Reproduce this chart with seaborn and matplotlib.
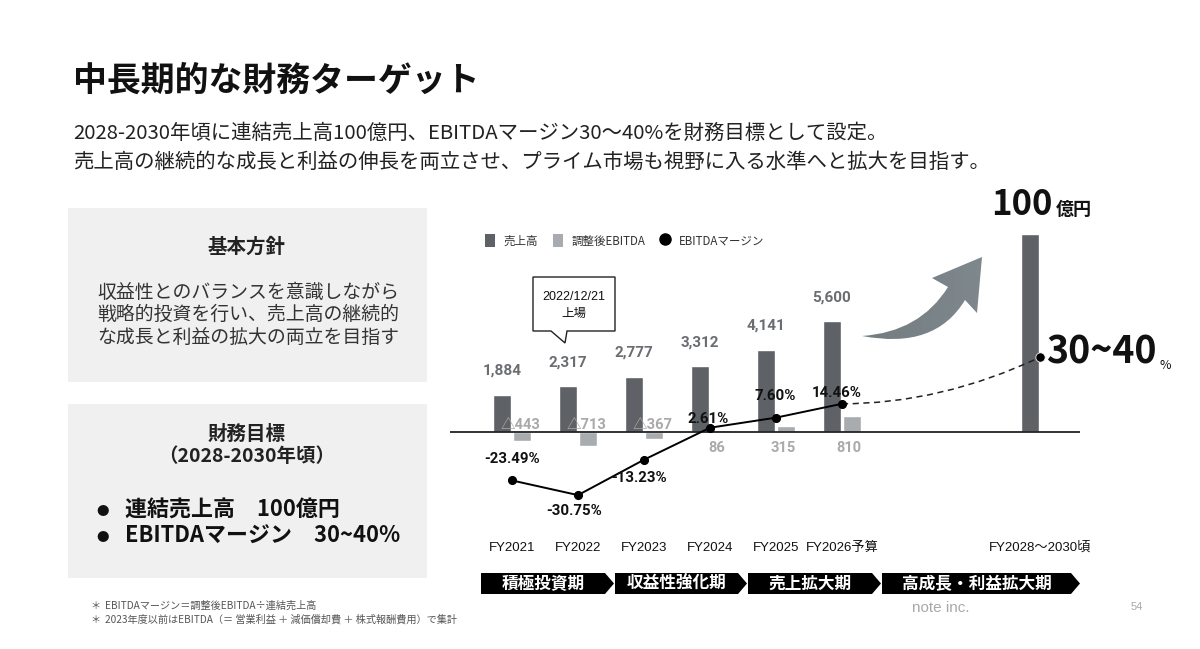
import numpy as np
import pandas as pd
import matplotlib
matplotlib.use("Agg")
import matplotlib.pyplot as plt
import seaborn as sns
from matplotlib.patches import Polygon, Patch, PathPatch
from matplotlib.lines import Line2D
from matplotlib.path import Path
from matplotlib.colors import LinearSegmentedColormap
from matplotlib.transforms import blended_transform_factory

# ---------------- data ----------------
fy_labels = ["FY2021", "FY2022", "FY2023", "FY2024", "FY2025", "FY2026予算"]
target_label = "FY2028〜2030頃"
sales = [1884, 2317, 2777, 3312, 4141, 5600]
ebitda = [-443, -713, -367, 86, 315, 810]
margin = [-23.49, -30.75, -13.23, 2.61, 7.60, 14.46]
target_sales = 10000
target_margin = 37.5
series_names = ["売上高", "調整後EBITDA", "EBITDAマージン"]
phases = ["積極投資期", "収益性強化期", "売上拡大期", "高成長・利益拡大期"]

title = "中長期的な財務ターゲット"
subtitle = ["2028-2030年頃に連結売上高100億円、EBITDAマージン30〜40%を財務目標として設定。",
            "売上高の継続的な成長と利益の伸長を両立させ、プライム市場も視野に入る水準へと拡大を目指す。"]
policy_title = "基本方針"
policy_lines = ["収益性とのバランスを意識しながら", "戦略的投資を行い、売上高の継続的", "な成長と利益の拡大の両立を目指す"]
goal_title = ["財務目標", "（2028-2030年頃）"]
goal_items = ["連結売上高　100億円", "EBITDAマージン　30~40%"]
footnotes = ["EBITDAマージン＝調整後EBITDA÷連結売上高",
             "2023年度以前はEBITDA（＝ 営業利益 ＋ 減価償却費 ＋ 株式報酬費用）で集計"]
callout = ["2022/12/21", "上場"]

# ---------------- style ----------------
sns.set_theme(style="white")
plt.rcParams['font.family'] = ['Noto Sans CJK JP', 'DejaVu Sans']
NUM = ['Roboto', 'Noto Sans CJK JP', 'DejaVu Sans']
ARIAL = ['Liberation Sans', 'Noto Sans CJK JP', 'DejaVu Sans']
DARK = '#5c6268'
LIGHT = '#a8acb0'
PT = 0.72  # px -> pt at dpi 100

fig = plt.figure(figsize=(12, 6.49), dpi=100)
fig.patch.set_facecolor('white')
bg = fig.add_axes([0, 0, 1, 1])
bg.set_xlim(0, 1200)
bg.set_ylim(649, 0)
bg.axis('off')

# ---------------- header ----------------
bg.text(73, 80, title, fontsize=24.4, fontweight='bold', color='#111', va='center', ha='left')
for i, line in enumerate(subtitle):
    bg.text(73, 133 + 29 * i, line, fontsize=14.7, color='#222', va='center', ha='left')

# ---------------- left boxes ----------------
for (y0, y1) in [(208, 382), (404, 578)]:
    bg.add_patch(Polygon([(68, y0), (427, y0), (427, y1), (68, y1)], closed=True,
                         facecolor='#f0f0f0', edgecolor='none'))
bg.text(247, 247, policy_title, fontsize=14, fontweight='bold', color='#222', ha='center', va='center')
for i, line in enumerate(policy_lines):
    bg.text(248, 292 + 22.5 * i, line, fontsize=13.6, color='#333', ha='center', va='center')
for i, line in enumerate(goal_title):
    bg.text(247, 434 + 23 * i, line, fontsize=14, fontweight='bold', color='#222', ha='center', va='center')
for i, line in enumerate(goal_items):
    bg.text(103, 511 + 26 * i, "●", fontsize=9, color='#111', ha='center', va='center')
    bg.text(125, 510 + 26 * i, line, fontsize=15.8, fontweight='bold', color='#111', ha='left', va='center')

# footnotes
for i, line in enumerate(footnotes):
    bg.text(90, 606 + 14 * i, "＊", fontsize=7.3, color='#555', ha='left', va='center')
    bg.text(105, 606 + 14 * i, line, fontsize=7.3, color='#555', ha='left', va='center')

bg.text(941, 608, "note inc.", fontsize=11, color='#a8a8a8', ha='center', va='center', family=ARIAL)
bg.text(1137, 607, "54", fontsize=8, color='#a8a8a8', ha='center', va='center', family=ARIAL)

# ---------------- chart ----------------
X0, X1, Y0, Y1 = 450, 1080, 180, 520
ax = fig.add_axes([X0 / 1200, 1 - Y1 / 649, (X1 - X0) / 1200, (Y1 - Y0) / 649])
order = fy_labels + ["_gap1", "_gap2", target_label]

rows = []
for p, s, e in zip(fy_labels, sales, ebitda):
    rows.append((p, series_names[0], s))
    rows.append((p, series_names[1], e))
rows.append((target_label, series_names[0], target_sales))
df = pd.DataFrame(rows, columns=["period", "series", "value"])

sns.barplot(data=df, x="period", y="value", hue="series", order=order,
            hue_order=series_names[:2], palette=[DARK, LIGHT], width=0.62, gap=0.1,
            errorbar=None, legend=False, ax=ax, zorder=2)

ax2 = ax.twinx()
dfm = pd.DataFrame({"period": fy_labels, "margin": margin})
sns.pointplot(data=dfm, x="period", y="margin", order=order, color='black',
              markersize=5.5, linewidth=1.4, errorbar=None, ax=ax2)

ZERO = 432
SCALE_B = 0.0198   # px per unit
SCALE_M = 2.02     # px per %
ax.set_ylim(-(Y1 - ZERO) / SCALE_B, (ZERO - Y0) / SCALE_B)
ax2.set_ylim(-(Y1 - ZERO - 1) / SCALE_M, (ZERO + 1 - Y0) / SCALE_M)
xl = ((X0 - 512) / 66, (X1 - 512) / 66)
ax.set_xlim(*xl)
ax2.set_xlim(*xl)
ax.axis('off')
ax2.axis('off')
ax.axhline(0, color='#222', lw=1.3, zorder=3)

# value labels on bars
for ci, cont in enumerate(ax.containers):
    for bar in cont:
        cx = bar.get_x() + bar.get_width() / 2
        idx = int(round(cx))
        if idx >= len(fy_labels):
            continue
        if ci == 0:
            ax.annotate(f"{sales[idx]:,}", (cx, sales[idx]), xytext=(0, 24 * PT),
                        textcoords='offset points', ha='center', va='center',
                        fontsize=11, fontweight='bold', color='#6a6d71', family=NUM)
        else:
            v = ebitda[idx]
            if v < 0:
                ax.annotate(f"△{abs(v):,}", (cx - 0.03, 0), xytext=(0, 7 * PT),
                            textcoords='offset points', ha='center', va='center',
                            fontsize=10.5, fontweight='bold', color='#a9a9a9', family=NUM, zorder=4)
            else:
                ax.annotate(f"{v:,}", (cx - 0.05, 0), xytext=(0, -16 * PT),
                            textcoords='offset points', ha='center', va='center',
                            fontsize=10.5, fontweight='bold', color='#a9a9a9', family=NUM)

# margin labels
m_off = [(0, 21), (-4, -16), (-5, -18), (-2, 9), (-1, 22), (-5, 11)]
for i, (v, (dx, dy)) in enumerate(zip(margin, m_off)):
    ax2.annotate(f"{v:.2f}%", (i, v), xytext=(dx * PT, dy * PT), textcoords='offset points',
                 ha='center', va='center', fontsize=10.8, fontweight='bold', color='#111',
                 family=NUM, zorder=6)

# dashed projection curve to target
ti = order.index(target_label)
p0 = (len(fy_labels) - 1, margin[-1])
p1 = (6.5, margin[-1])
p2 = (ti, target_margin)
curve = Path([p0, p1, p2], [Path.MOVETO, Path.CURVE3, Path.CURVE3])
ax2.add_patch(PathPatch(curve, facecolor='none', edgecolor='#222', lw=1.1, ls=(0, (4, 3))))
sns.scatterplot(x=[ti], y=[target_margin], color='black', s=45, ax=ax2, zorder=7, legend=False)
ax2.set_xlim(*xl)

# FY labels
tr = blended_transform_factory(ax.transData, bg.transData)
for i, lab in enumerate(fy_labels):
    bg.text(i, 548, lab, transform=tr, fontsize=9.5, color='#111', ha='center', va='center', family=ARIAL)
bg.text(ti, 548, target_label, transform=tr, fontsize=9.5, color='#111', ha='center', va='center', family=ARIAL)

# legend
handles = [Patch(facecolor=DARK, edgecolor='none'), Patch(facecolor=LIGHT, edgecolor='none'),
           Line2D([], [], marker='o', color='black', ls='none', markersize=8)]
leg = bg.legend(handles, series_names, loc='center left', bbox_to_anchor=(485, 241),
                bbox_transform=bg.transData, ncol=3, frameon=False, fontsize=8.3,
                handlelength=0.9, handleheight=1.3, handletextpad=0.7, columnspacing=1.3,
                borderpad=0, borderaxespad=0)
for t in leg.get_texts():
    t.set_color('#333')

# callout box
bg.add_patch(Polygon([(533, 277), (615, 277), (615, 331), (567, 331), (565, 343), (551, 331), (533, 331)],
                     closed=True, facecolor='white', edgecolor='#222', lw=1.0, zorder=3))
bg.text(574, 297, callout[0], fontsize=9, color='#111', ha='center', va='center', family=ARIAL, zorder=4)
bg.text(574, 313, callout[1], fontsize=9, color='#111', ha='center', va='center', zorder=4)

# big curved arrow
verts = [(862, 336), (920, 332), (948, 287), (932, 278), (982, 257), (977, 313),
         (965, 300), (935, 350), (862, 336), (862, 336)]
codes = [Path.MOVETO, Path.CURVE3, Path.CURVE3, Path.LINETO, Path.LINETO, Path.LINETO,
         Path.LINETO, Path.CURVE3, Path.CURVE3, Path.CLOSEPOLY]
arrow = PathPatch(Path(verts, codes), facecolor='none', edgecolor='none')
bg.add_patch(arrow)
cmap = LinearSegmentedColormap.from_list('g', ['#737c81', '#7f888d'])
im = bg.imshow(np.linspace(0, 1, 256).reshape(1, -1), cmap=cmap, extent=(858, 986, 352, 252),
               aspect='auto', interpolation='bicubic', zorder=2)
im.set_clip_path(arrow)
bg.set_xlim(0, 1200)
bg.set_ylim(649, 0)

# target annotations
bg.text(1053, 215, "100", fontsize=25, fontweight='bold', color='#111', ha='right', va='baseline')
bg.text(1056, 215, "億円", fontsize=13, fontweight='bold', color='#111', ha='left', va='baseline')
t30 = bg.text(1046, 364, "30~40", fontsize=27, fontweight='bold', color='#111', ha='left', va='baseline')
bg.annotate("%", xy=(1, 0), xycoords=t30, xytext=(2, 0), textcoords='offset points',
            fontsize=9, color='#111', ha='left', va='bottom')

# phase banners
spans = [(481, 614), (615, 747), (748, 881), (882, 1080)]
for (xs, xe), lab in zip(spans, phases):
    bg.add_patch(Polygon([(xs, 573), (xe - 9, 573), (xe, 583.5), (xe - 9, 594), (xs, 594)],
                         closed=True, facecolor='black', edgecolor='none'))
    bg.text((xs + xe - 9) / 2, 584, lab, fontsize=12, fontweight='bold', color='white',
            ha='center', va='center')

fig.savefig("out.png", dpi=100, facecolor='white')
